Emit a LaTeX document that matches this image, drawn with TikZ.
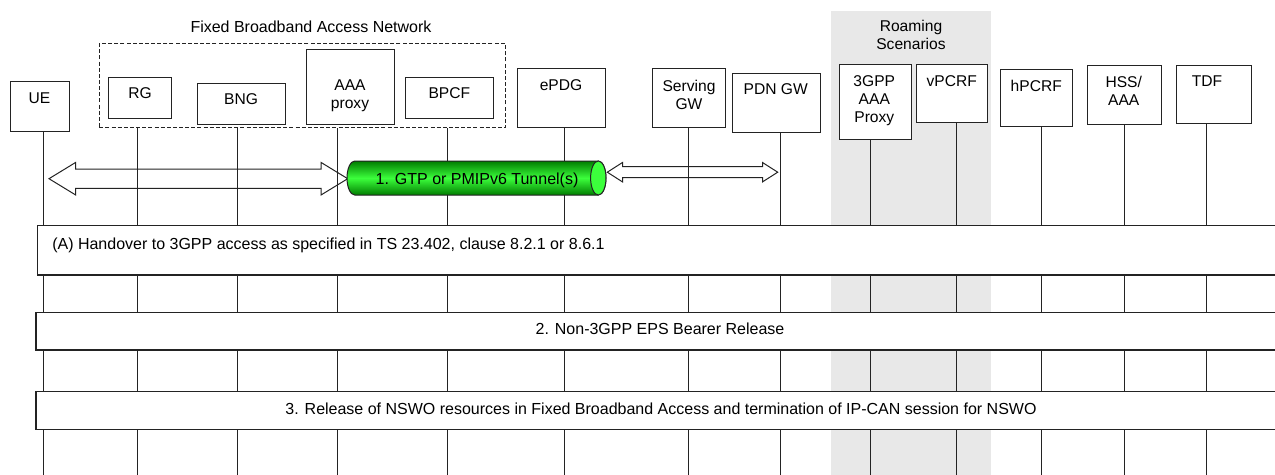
\documentclass[tikz,border=0pt]{standalone}
\usepackage{fontspec}
\setmainfont{Liberation Sans}
\usetikzlibrary{fit}
\definecolor{band}{RGB}{232,232,232}
\definecolor{tdark}{RGB}{0,125,0}
\definecolor{tlight}{RGB}{60,255,60}
\definecolor{ink}{RGB}{35,35,35}
\newcommand\mkbox[6][box]{\path (#3,#4) coordinate (#2-a) (#5,#6) coordinate (#2-b);
  \node[#1, fit=(#2-a)(#2-b)] (#2) {};}
\begin{document}
\begin{tikzpicture}[x=0.75pt,y=-0.75pt,
  box/.style={draw=ink, line width=0.75pt, fill=white, inner sep=0pt},
  fban/.style={draw=ink, line width=0.75pt, dash pattern=on 3pt off 1.6pt, inner sep=0pt},
  bandbox/.style={fill=band, inner sep=0pt},
  stepbox/.style={draw=ink, line width=0.8pt, fill=white, inner sep=0pt},
  lbl/.style={font=\fontsize{11.7}{13.5}\selectfont, align=center, anchor=north, inner sep=0pt},
  txt/.style={font=\fontsize{12}{13.5}\selectfont, inner sep=0pt},
  life/.style={draw=ink, line width=0.75pt},
  blk/.style={draw=ink, line width=0.75pt, line join=miter}]
\useasboundingbox (0,0) rectangle (1275,475);
\clip (0,0) rectangle (1275,475);
% roaming band
\mkbox[bandbox]{band}{831}{11}{991}{476}
% boxes
\mkbox{UE}{10.3}{81.3}{69.3}{131.7}
\mkbox{RG}{108.3}{77.7}{171.7}{118.3}
\mkbox{BNG}{197.7}{83}{285}{124.3}
\mkbox{AAA}{306.7}{49.7}{394}{124.3}
\mkbox{BPCF}{405.7}{77.7}{493.3}{118.3}
\mkbox{ePDG}{517.7}{68.7}{605}{127}
\mkbox{SGW}{652.3}{68.7}{725.7}{127}
\mkbox{PGW}{732.7}{73.7}{820}{132}
\mkbox{AAAP}{839.7}{64.7}{911.3}{139.3}
\mkbox{vPCRF}{916.7}{64.7}{987.7}{122}
\mkbox{hPCRF}{1000.7}{69.7}{1072}{126.7}
\mkbox{HSS}{1087.3}{65.7}{1161.7}{124.7}
\mkbox{TDF}{1176.7}{65.7}{1251}{123.7}
\mkbox[fban]{FBAN}{99.3}{43.7}{505.3}{127.7}
% lifeline ends
\coordinate (UE-l) at (43.3,476);
\coordinate (RG-l) at (137,476);
\coordinate (BNG-l) at (237.3,476);
\coordinate (AAA-l) at (337,476);
\coordinate (BPCF-l) at (447.7,476);
\coordinate (ePDG-l) at (564.7,476);
\coordinate (SGW-l) at (688.7,476);
\coordinate (PGW-l) at (780,476);
\coordinate (AAAP-l) at (870,476);
\coordinate (vPCRF-l) at (956.7,476);
\coordinate (hPCRF-l) at (1041,476);
\coordinate (HSS-l) at (1124.7,476);
\coordinate (TDF-l) at (1206.7,476);
\foreach \n in {UE,ePDG,SGW,PGW,AAAP,vPCRF,hPCRF,HSS,TDF}
  \draw[life] (\n.south -| \n-l) -- (\n-l);
\foreach \n in {RG,BNG,AAA,BPCF}
  \draw[life] (FBAN.south -| \n-l) -- (\n-l);
% labels
\node[lbl] (UEt) at (39.5,92) {UE};
\node[lbl] (RGt) at (140,87.6) {RG};
\node[lbl] (BNGt) at (241,93) {BNG};
\node[lbl] (AAAt) at (350,79.3) {AAA\\proxy};
\node[lbl] (BPCFt) at (449.3,87.6) {BPCF};
\node[lbl] (ePDGt) at (561,79.3) {ePDG};
\node[lbl] (SGWt) at (689,80.3) {Serving\\GW};
\node[lbl] (PGWt) at (775.7,83.6) {PDN GW};
\node[lbl] (AAAPt) at (874.3,75.3) {3GPP\\AAA\\Proxy};
\node[lbl] (vPCRFt) at (951.7,75.3) {vPCRF};
\node[lbl] (hPCRFt) at (1036.3,80.3) {hPCRF};
\node[lbl] (HSSt) at (1123.7,75.6) {HSS/\\AAA};
\node[lbl] (TDFt) at (1207,75.3) {TDF};
\node[lbl, font=\fontsize{12}{13.5}\selectfont] (FBANt) at (311,20.3) {Fixed Broadband Access Network};
\node[lbl] (bandt) at (911,20.3) {Roaming\\Scenarios};
% double arrows
\coordinate (a1L) at (49,178.7);
\coordinate (a1R) at (347.7,178.7);
\draw[blk] (a1L) -- ++(26.7,-16.3) -- ++(0,6.6) -- ++(245.3,0) -- ++(0,-6.6) -- (a1R)
  -- ++(-26.7,16.3) -- ++(0,-6.6) -- ++(-245.3,0) -- ++(0,6.6) -- cycle;
\coordinate (a2L) at (607.3,172.2);
\coordinate (a2R) at (777.7,172.2);
\draw[blk] (a2L) -- ++(15.2,-9.7) -- ++(0,4.2) -- ++(140,0) -- ++(0,-4.2) -- (a2R)
  -- ++(-15.2,9.7) -- ++(0,-4.2) -- ++(-140,0) -- ++(0,4.2) -- cycle;
% tunnel
\shade[top color=tdark, bottom color=tdark, middle color=tlight, draw=ink, line width=0.75pt]
  (598.3,161) -- (354.7,161) arc[start angle=270, end angle=90, x radius=7.7, y radius=17]
  -- (598.3,195) arc[start angle=90, end angle=-90, x radius=7.7, y radius=17] -- cycle;
\filldraw[fill=tlight, draw=ink, line width=0.75pt] (598.3,178) ellipse [x radius=7.7, y radius=17];
\node[txt, anchor=base] (tun) at (477,184.7) {1. GTP or PMIPv6 Tunnel(s)};
% step boxes
\mkbox[stepbox]{stA}{37.6}{225.3}{1290}{275}
\mkbox[stepbox]{st2}{36}{312.3}{1290}{350}
\mkbox[stepbox]{st3}{36}{391.7}{1290}{429.3}
\node[txt, anchor=base west] (stAt) at (52,249) {(A) Handover to 3GPP access as specified in TS 23.402, clause 8.2.1 or 8.6.1};
\node[txt, anchor=base] (st2t) at (660,334) {2. Non-3GPP EPS Bearer Release};
\node[txt, anchor=base] (st3t) at (661,414) {3. Release of NSWO resources in Fixed Broadband Access and termination of IP-CAN session for NSWO};
\end{tikzpicture}
\end{document}
